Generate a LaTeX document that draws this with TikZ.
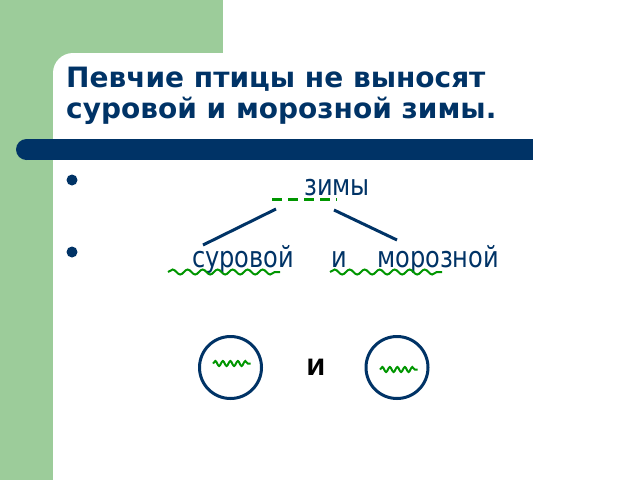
\documentclass[tikz,border=0pt]{standalone}
\usepackage{fontspec}
\setmainfont{DejaVu Sans}
\newfontfamily\bodyfont[FakeStretch=0.83]{DejaVu Sans}
\newfontfamily\titlefont{DejaVu Sans Bold}
\newfontfamily\andfont{Liberation Sans Bold}
\usetikzlibrary{decorations.pathmorphing}
\definecolor{bggreen}{RGB}{156,204,154}
\definecolor{navy}{RGB}{0,51,102}
\definecolor{ulgreen}{RGB}{0,150,0}
\tikzset{
  titletext/.style={anchor=base west, inner sep=0, text=navy, font=\titlefont\fontsize{28}{33}\selectfont},
  word/.style={anchor=base west, inner sep=0, text=navy, font=\bodyfont\fontsize{29}{34}\selectfont},
  bulletdot/.style={circle, fill=navy, inner sep=0, minimum size=11},
  conn/.style={navy, line width=3},
  wavy/.style={ulgreen, line width=2, decorate, decoration={snake, segment length=15, amplitude=2.5}},
  smallwavy/.style={ulgreen, line width=2, decorate, decoration={snake, segment length=7.5, amplitude=2.5}},
  dashline/.style={ulgreen, line width=3, dash pattern=on 10 off 6},
  ring/.style={circle, draw=navy, line width=3, minimum size=62, inner sep=0},
}
\begin{document}
\begin{tikzpicture}[x=1pt,y=-1pt]
\useasboundingbox (0,0) rectangle (640,480);
\fill[bggreen] (0,0) rectangle (223,480);
\fill[white] (53,480) -- (53,73) arc[start angle=180, end angle=270, radius=20] -- (640,53) -- (640,480) -- cycle;
\fill[white] (223,0) rectangle (640,53);
% bar
\fill[navy] (26.5,139) rectangle (533,160);
\fill[navy] (26.5,149.5) circle[radius=10.5];
% title
\node[titletext] (t1) at (66,87.5) {Певчие птицы не выносят};
\node[titletext] (t2) at (66,118.5) {суровой и морозной зимы.};
% bullets
\node[bulletdot] (b1) at (72,180) {};
\node[bulletdot] (b2) at (72,252) {};
% words
\node[word] (zimy) at (304,195) {зимы};
\node[word] (surovoy) at (192,267) {суровой};
\node[word] (i) at (331,267) {и};
\node[word] (moroznoy) at (377,267) {морозной};
% dashed underline
\coordinate (d1) at (272,199);
\coordinate (d2) at (337,199);
\draw[dashline] (d1) -- (d2);
% connectors
\coordinate (c1a) at (276,209);
\coordinate (c1b) at (203,245);
\coordinate (c2a) at (334,210);
\coordinate (c2b) at (397,240);
\draw[conn] (c1a) -- (c1b);
\draw[conn] (c2a) -- (c2b);
% wavy underlines
\coordinate (w1a) at (168,272);
\coordinate (w1b) at (280,272);
\coordinate (w2a) at (330,272);
\coordinate (w2b) at (442,272);
\draw[wavy] (w1a) -- (w1b);
\draw[wavy] (w2a) -- (w2b);
% circles
\node[ring] (r1) at (230.5,367.5) {};
\node[ring] (r2) at (397,367.5) {};
\draw[smallwavy] ([xshift=-17.5,yshift=4]r1.center) -- ([xshift=20,yshift=4]r1.center);
\draw[smallwavy] ([xshift=-17,yshift=-2]r2.center) -- ([xshift=20.5,yshift=-2]r2.center);
\node[anchor=base, inner sep=0, font=\andfont\fontsize{31}{36}\selectfont] (and) at (316,375) {и};
\end{tikzpicture}
\end{document}
